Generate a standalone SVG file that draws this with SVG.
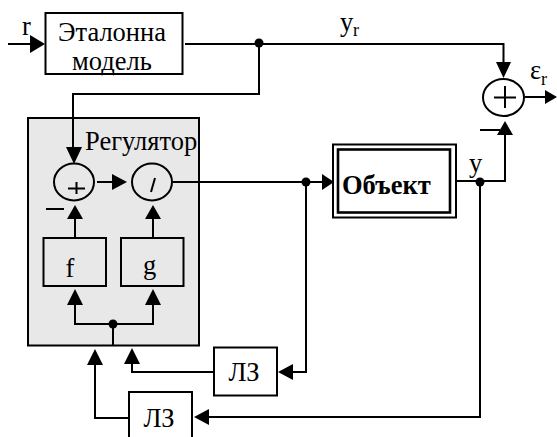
<svg xmlns="http://www.w3.org/2000/svg" width="557" height="437" viewBox="0 0 557 437">
<style>
.b{fill:#fff;stroke:#000;stroke-width:2}
.c{fill:none;stroke:#000;stroke-width:2}
.w{fill:none;stroke:#000;stroke-width:2}
.h{fill:#000;stroke:none}
text{font-family:"Liberation Serif",serif;fill:#000}
</style>
<rect width="557" height="437" fill="#fff"/>
<g id="regulator">
<rect x="28" y="118" width="171" height="227.500" fill="#e8e8e8" stroke="#000" stroke-width="2"/>
<text x="85" y="150" font-size="26.500">Регулятор</text>
</g>
<g id="connectors">
<path class="w" d="M8 44H38M185 44H503.500V68M259 44V94H73V150M97 182H122M173 182H328M306 182V372H290M456 181H505V132M480 182V417H206M525 97H546M75 238V216M153 238V216M75 301V324H153V301M113 324V345M214 372H132V360M129 418H95V360"/>
<path class="h" d="M45 44L30 35V53ZM503.500 78L496 62H511ZM505 121L497 135H513ZM557 97L545 90V104ZM74 164L66 147H82ZM127 182L112 174V190ZM334 182L322 174V190ZM75 205L67 219H83ZM153 205L145 219H161ZM75 289L67 305H83ZM153 289L145 305H161ZM132 348L124 364H140ZM95 349L87 365H103ZM278 372L293 364V380ZM194 417L209 409V425Z"/>
<circle class="h" cx="259" cy="43" r="4.500"/>
<circle class="h" cx="306" cy="182" r="4.500"/>
<circle class="h" cx="480" cy="182" r="4.500"/>
<circle class="h" cx="113" cy="324" r="4.500"/>
<path class="c" d="M480 130H500M46 209H64"/>
</g>
<g id="reference-model">
<rect class="b" x="45.500" y="13" width="137" height="61"/>
<text x="112" y="41" font-size="26.500" text-anchor="middle">Эталонна</text>
<text x="112" y="70" font-size="26.500" text-anchor="middle">модель</text>
</g>
<g id="sum-top">
<ellipse class="b" cx="503.500" cy="97.500" rx="20.500" ry="18.500"/>
<path class="c" d="M505 86V108M494 97.500H516"/>
</g>
<g id="sum-left">
<ellipse class="c" cx="74" cy="182" rx="20" ry="18.500"/>
<path class="c" d="M68 188.500H85M76.500 182V194"/>
</g>
<g id="divide">
<ellipse class="c" cx="152" cy="182" rx="20" ry="18.500"/>
<path class="c" d="M155 178L151 192"/>
</g>
<g id="object">
<rect class="b" x="333" y="144.500" width="123" height="73"/>
<rect class="w" x="338" y="149.500" width="112" height="63" style="stroke-width:2.600"/>
<text x="342" y="194" font-size="26.500" font-weight="bold">Объект</text>
</g>
<g id="f"><rect class="c" x="43.500" y="238" width="62.500" height="48"/><text x="70" y="277" font-size="26.500" text-anchor="middle">f</text></g>
<g id="g"><rect class="c" x="121" y="238" width="62.500" height="48"/><text x="149.500" y="274" font-size="26.500" text-anchor="middle">g</text></g>
<g id="delay-1"><rect class="b" x="214" y="347.500" width="63" height="48"/><text x="244" y="381" font-size="26.500" text-anchor="middle">ЛЗ</text></g>
<g id="delay-2"><rect class="b" x="129" y="392" width="63" height="50"/><text x="159" y="427" font-size="26.500" text-anchor="middle">ЛЗ</text></g>
<g id="labels">
<text x="22" y="35" font-size="26.500">r</text>
<text x="340" y="31" font-size="26.500">y</text><text x="353" y="36" font-size="18">r</text>
<text x="530" y="79" font-size="26.500">ε</text><text x="541" y="85" font-size="18">r</text>
<text x="469" y="172" font-size="26.500">y</text>
</g>
</svg>
